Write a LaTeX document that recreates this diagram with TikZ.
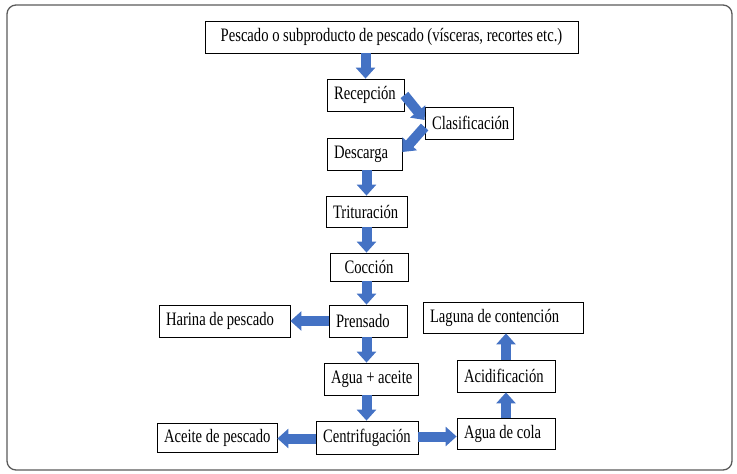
\documentclass[tikz,border=0pt]{standalone}
\usepackage{fontspec}
\setmainfont[FakeStretch=0.77]{Liberation Serif}
\usetikzlibrary{arrows.meta}
\definecolor{arrowblue}{HTML}{4472C4}
\definecolor{framegray}{HTML}{5A5A5A}
\tikzset{
  stepbox/.style={draw=black, line width=0.8pt, fill=white, inner xsep=7pt, inner ysep=0pt,
    font=\fontsize{19}{22}\selectfont, anchor=center},
  barrow/.style={draw=arrowblue, line width=10pt, line cap=butt,
    -{Triangle[width=19pt,length=11pt]}},
}
\newcommand{\bx}[6]{% name, cx, cy, w, h, text
  \node[stepbox, minimum height=#5pt] (#1) at (#2,#3) {\makebox[\dimexpr #4pt-14pt\relax][l]{#6}};}
\begin{document}
\begin{tikzpicture}[x=1pt,y=-1pt]
\useasboundingbox (0,0) rectangle (737,474);
\draw[framegray, line width=1.3pt, rounded corners=9pt] (7,5) rectangle (732,470);

\node[stepbox, minimum width=373pt, minimum height=32pt] (top) at (391.5,37) {Pescado o subproducto de pescado (vísceras, recortes etc.)};
\bx{rec}{365.5}{95}{77}{32}{Recepción}
\bx{cla}{469}{123}{88}{32}{Clasificación}
\bx{des}{364.5}{154}{75}{32}{Descarga}
\bx{tri}{366.5}{211.5}{81}{31}{Trituración}
\node[stepbox, minimum width=78pt, minimum height=28pt] (coc) at (369,267) {Cocción};
\bx{pre}{368}{321}{78}{32}{Prensado}
\bx{har}{224.5}{321}{131}{32}{Harina de pescado}
\bx{lag}{503}{317.5}{160}{31}{Laguna de contención}
\bx{agu}{371}{379}{94}{32}{Agua + aceite}
\bx{aci}{506}{376}{98}{32}{Acidificación}
\bx{cen}{367}{437.5}{102}{33}{Centrifugación}
\bx{ace}{217}{437.5}{120}{29}{Aceite de pescado}
\bx{col}{506}{433.5}{98}{31}{Agua de cola}

\draw[barrow] (top.south -| rec.center) -- (rec.north);
\draw[barrow] (rec.east) -- ([yshift=3pt]cla.west);
\draw[barrow] ([yshift=-4pt]cla.west) -- ([yshift=2pt]des.east);
\draw[barrow] (des.south -| tri.center) -- (tri.north);
\draw[barrow] (tri.south) -- (coc.north -| tri.center);
\draw[barrow] (coc.south -| tri.center) -- (pre.north -| tri.center);
\draw[barrow] (pre.west) -- (har.east);
\draw[barrow] (pre.south -| tri.center) -- (agu.north -| tri.center);
\draw[barrow] (agu.south -| tri.center) -- (cen.north -| tri.center);
\draw[barrow] ([yshift=-1pt]cen.west) -- ([yshift=-1pt]cen.west -| ace.east);
\draw[barrow] ([yshift=1pt]cen.east) -- ([yshift=1pt]cen.east -| col.west);
\draw[barrow] (col.north) -- (aci.south);
\draw[barrow] (aci.north) -- (lag.south -| aci.north);
\end{tikzpicture}
\end{document}
